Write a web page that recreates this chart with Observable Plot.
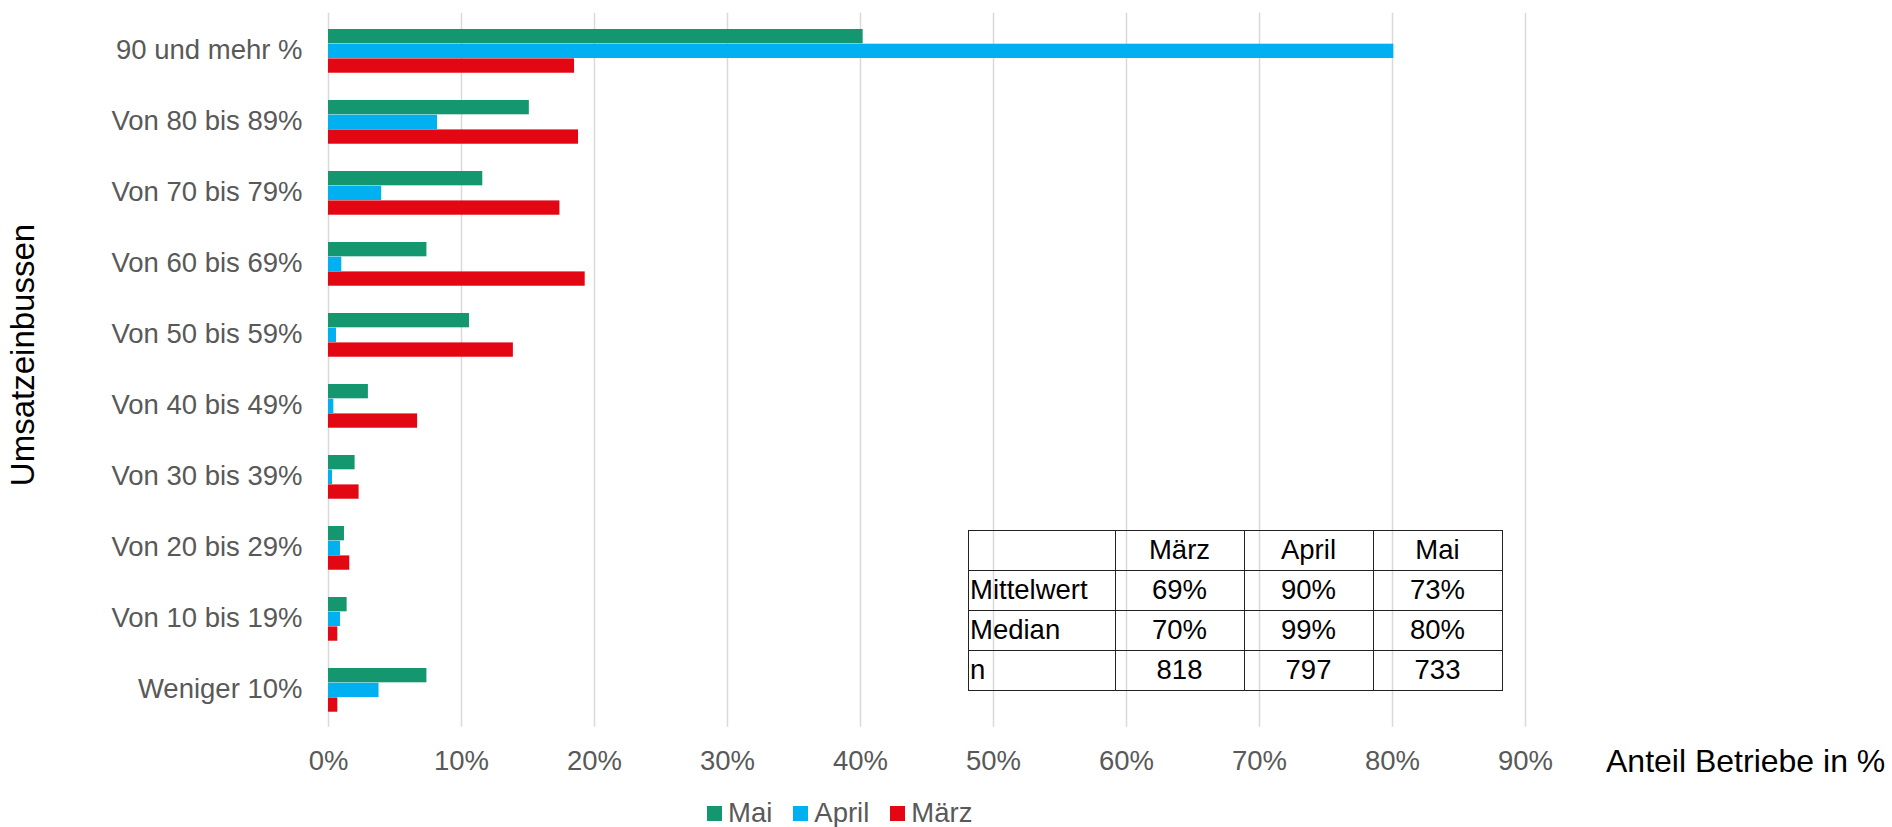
<!DOCTYPE html>
<html>
<head>
<meta charset="utf-8">
<script src="https://cdn.jsdelivr.net/npm/d3@7"></script>
<script src="https://cdn.jsdelivr.net/npm/@observablehq/plot@0.6"></script>
<style>
  html, body { margin: 0; padding: 0; background: #fff; }
  #wrap { position: relative; width: 1892px; height: 827px; overflow: hidden; font-family: "Liberation Sans", Arial, sans-serif; }
  #chart { position: absolute; left: 0; top: 0; }
  .ytitle { position: absolute; left: 39px; top: 355px; transform-origin: 0 0; transform: rotate(-90deg) translate(-50%, -100%); font-size: 33px; color: #000; white-space: nowrap; line-height: 1; }
  .xtitle { position: absolute; left: 1606px; top: 745px; font-size: 32px; color: #000; white-space: nowrap; line-height: 1; }
  #stats { position: absolute; left: 968px; top: 529.5px; border-collapse: collapse; font-size: 27.5px; color: #000; }
  #stats td { border: 1.5px solid #222; height: 39px; padding: 0; text-align: center; line-height: 1; }
  #stats td.lab { text-align: left; padding-left: 1px; }
  #legend { position: absolute; left: 707px; top: 799px; height: 28px; }
  #legend [class*="-swatches"] { font-size: 27.5px !important; line-height: 1 !important; font-family: "Liberation Sans", Arial, sans-serif !important; color: #595959 !important; min-height: 28px !important; margin: 0 !important; display: flex !important; align-items: center !important; }
  #legend [class$="-swatch"] { margin-right: 21px !important; display: inline-flex !important; align-items: center !important; line-height: 1 !important; }
  #legend [class$="-swatch"] > svg { margin-right: 6px !important; }
</style>
</head>
<body>
<div id="wrap">
  <div id="chart"></div>
  <div class="ytitle">Umsatzeinbussen</div>
  <div class="xtitle">Anteil Betriebe in %</div>
  <table id="stats"></table>
  <div id="legend"></div>
</div>
<script>
const categories = ["90 und mehr %", "Von 80 bis 89%", "Von 70 bis 79%", "Von 60 bis 69%", "Von 50 bis 59%",
  "Von 40 bis 49%", "Von 30 bis 39%", "Von 20 bis 29%", "Von 10 bis 19%", "Weniger 10%"];
const series = ["Mai", "April", "März"];
const colors = ["#14966f", "#00b0f0", "#e30613"];
const mai   = [40.2, 15.1, 11.6, 7.4, 10.6, 3.0, 2.0, 1.2, 1.4, 7.4];
const april = [80.1, 8.2, 4.0, 1.0, 0.6, 0.4, 0.3, 0.9, 0.9, 3.8];
const maerz = [18.5, 18.8, 17.4, 19.3, 13.9, 6.7, 2.3, 1.6, 0.7, 0.7];
const xTicks = [0, 10, 20, 30, 40, 50, 60, 70, 80, 90];

const tableHeader = ["", "März", "April", "Mai"];
const mittelwert = ["69%", "90%", "73%"];
const median = ["70%", "99%", "80%"];
const nValues = ["818", "797", "733"];

const values = [mai, april, maerz];
const data = [];
series.forEach((s, si) => categories.forEach((c, ci) => data.push({category: c, series: s, value: values[si][ci]})));

const W = 1892, H = 790;
const mTop = 12.8, mBottom = 63.3, mLeft = 328, mRight = 367;
const band = (H - mTop - mBottom) / categories.length;
const barH = band * 0.206;
const off0 = band * 0.196;

const bars = series.map((s, i) => Plot.barX(data.filter(d => d.series === s), {
  x: "value", y: "category", fill: colors[i],
  insetTop: off0 + i * barH, insetBottom: band - off0 - (i + 1) * barH
}));

const chart = Plot.plot({
  width: W, height: H,
  marginTop: mTop, marginBottom: mBottom, marginLeft: mLeft, marginRight: mRight,
  style: {fontFamily: "'Liberation Sans', Arial, sans-serif", fontSize: "27.5px", background: "#fff", overflow: "visible"},
  x: {domain: [0, 90], ticks: xTicks, tickFormat: d => d + "%"},
  y: {domain: categories, padding: 0},
  color: {domain: series, range: colors},
  marks: [
    Plot.gridX(xTicks, {stroke: "#d9d9d9", strokeOpacity: 1, strokeWidth: 1.5}),
    ...bars,
    Plot.axisX({ticks: xTicks, tickSize: 0, tickPadding: 23.5, color: "#595959", label: null, tickFormat: d => d + "%", fontSize: "27.5px"}),
    Plot.axisY({tickSize: 0, tickPadding: 26, color: "#595959", label: null, fontSize: "27.5px", dy: -1})
  ]
});
document.getElementById("chart").appendChild(chart);

const leg = chart.legend("color", {legend: "swatches", swatchSize: 15,
  style: {fontSize: "27.5px", fontFamily: "'Liberation Sans', Arial, sans-serif", color: "#595959"}});
document.getElementById("legend").appendChild(leg);

const rows = [tableHeader, ["Mittelwert", ...mittelwert], ["Median", ...median], ["n", ...nValues]];
const widths = [146, 129.5, 129.5, 129.5];
const table = document.getElementById("stats");
rows.forEach(r => {
  const tr = document.createElement("tr");
  r.forEach((v, i) => {
    const td = document.createElement("td");
    td.textContent = v;
    td.style.width = (widths[i] - 1.5) + "px";
    if (i === 0) td.className = "lab";
    tr.appendChild(td);
  });
  table.appendChild(tr);
});
</script>
</body>
</html>
